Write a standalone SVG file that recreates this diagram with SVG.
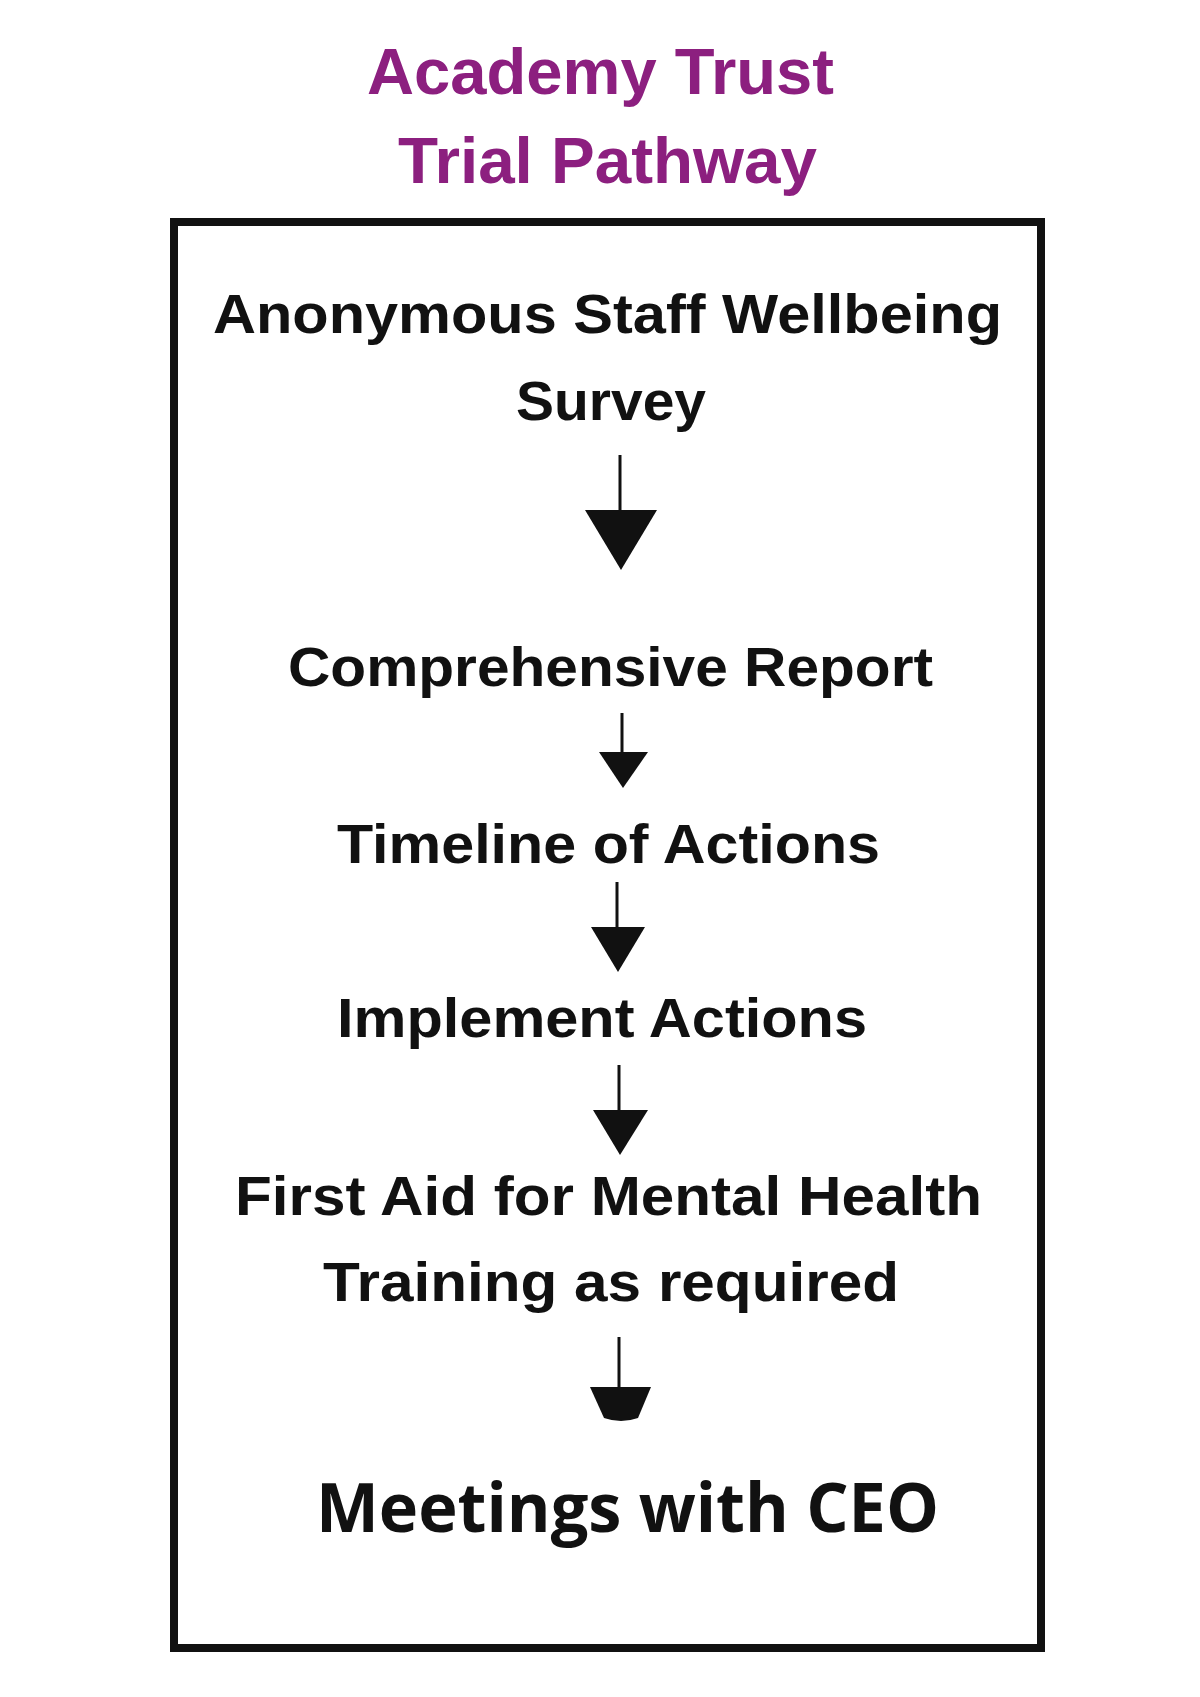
<svg xmlns="http://www.w3.org/2000/svg" width="1200" height="1697" viewBox="0 0 1200 1697">
<style>
.title{font-family:"Liberation Sans",Arial,sans-serif;font-weight:bold;font-size:64px;fill:#8C1F7F}
.step{font-family:"Liberation Sans",Arial,sans-serif;font-weight:bold;font-size:56px;fill:#111}
.ceo{font-family:"Open Sans","Noto Sans",sans-serif;font-weight:700;font-size:68px;fill:#111}
.line{stroke:#111;stroke-width:3;fill:none}
.head{fill:#111}
</style>
<rect width="1200" height="1697" fill="#fff"/>
<g id="title">
<text class="title" x="367" y="94" textLength="467" lengthAdjust="spacingAndGlyphs">Academy Trust</text>
<text class="title" x="398" y="183" textLength="419" lengthAdjust="spacingAndGlyphs">Trial Pathway</text>
</g>
<g id="frame">
<rect x="174" y="222" width="867" height="1426" fill="none" stroke="#111" stroke-width="8"/>
</g>
<g id="survey">
<text class="step" x="213" y="333" textLength="789" lengthAdjust="spacingAndGlyphs">Anonymous Staff Wellbeing</text>
<text class="step" x="516" y="420" textLength="190" lengthAdjust="spacingAndGlyphs">Survey</text>
</g>
<g id="report">
<text class="step" x="288" y="686" textLength="645" lengthAdjust="spacingAndGlyphs">Comprehensive Report</text>
</g>
<g id="timeline">
<text class="step" x="337" y="863" textLength="543" lengthAdjust="spacingAndGlyphs">Timeline of Actions</text>
</g>
<g id="implement">
<text class="step" x="337" y="1037" textLength="530" lengthAdjust="spacingAndGlyphs">Implement Actions</text>
</g>
<g id="firstaid">
<text class="step" x="235" y="1215" textLength="747" lengthAdjust="spacingAndGlyphs">First Aid for Mental Health</text>
<text class="step" x="323" y="1301" textLength="576" lengthAdjust="spacingAndGlyphs">Training as required</text>
</g>
<g id="ceo">
<text class="ceo" x="316" y="1532" textLength="623" lengthAdjust="spacingAndGlyphs">Meetings with CEO</text>
</g>
<g id="connectors">
<line class="line" x1="620" y1="455" x2="620" y2="512"/>
<polygon class="head" points="585,510 657,510 621,570"/>
<line class="line" x1="622" y1="713" x2="622" y2="754"/>
<polygon class="head" points="599,752 648,752 623,788"/>
<line class="line" x1="617" y1="882" x2="617" y2="929"/>
<polygon class="head" points="591,927 645,927 618,972"/>
<line class="line" x1="619" y1="1065" x2="619" y2="1112"/>
<polygon class="head" points="593,1110 648,1110 620,1155"/>
<line class="line" x1="619" y1="1337" x2="619" y2="1389"/>
<path class="head" d="M590,1387 L651,1387 L638,1418 Q621,1424 604,1418 Z"/>
</g>
</svg>
